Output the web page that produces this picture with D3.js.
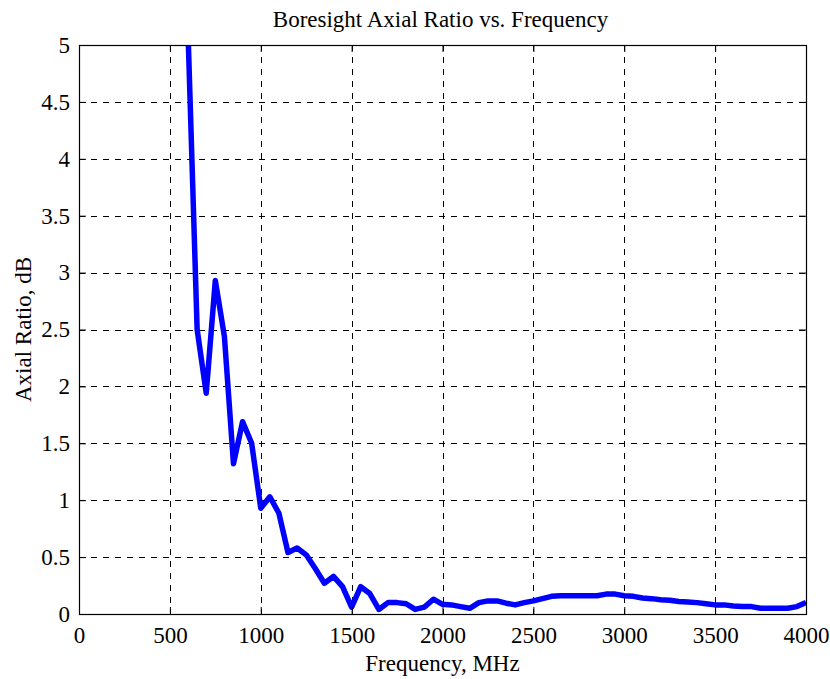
<!DOCTYPE html>
<html>
<head>
<meta charset="utf-8">
<script src="https://cdn.jsdelivr.net/npm/d3@7"></script>
<style>
  body { margin: 0; background: #fff; }
  svg text { font-family: "Liberation Serif", "Times New Roman", serif; fill: #000; }
</style>
</head>
<body>
<div id="chart"></div>
<script>
// frequency in MHz, axial ratio in dB
const freq = [600, 650, 700, 750, 800, 850, 900, 950, 1000, 1050, 1100, 1150, 1200, 1250, 1300,
              1350, 1400, 1450, 1500, 1550, 1600, 1650, 1700, 1750, 1800, 1850, 1900, 1950, 2000,
              2050, 2100, 2150, 2200, 2250, 2300, 2350, 2400, 2450, 2500, 2550, 2600, 2650, 2700,
              2750, 2800, 2850, 2900, 2950, 3000, 3050, 3100, 3150, 3200, 3250, 3300, 3350, 3400,
              3450, 3500, 3550, 3600, 3650, 3700, 3750, 3800, 3850, 3900, 3950, 4000];
const axialRatio = [5.1, 2.5, 1.94, 2.93, 2.44, 1.32, 1.69, 1.5, 0.93, 1.03, 0.885, 0.54, 0.58, 0.52, 0.4,
                    0.27, 0.33, 0.24, 0.06, 0.24, 0.18, 0.04, 0.1, 0.1, 0.09, 0.04, 0.06, 0.13, 0.085,
                    0.08, 0.065, 0.05, 0.1, 0.115, 0.115, 0.095, 0.08, 0.1, 0.115, 0.135, 0.155, 0.16, 0.16,
                    0.16, 0.16, 0.16, 0.175, 0.175, 0.16, 0.155, 0.14, 0.135, 0.125, 0.12, 0.11, 0.105, 0.1,
                    0.09, 0.08, 0.08, 0.07, 0.065, 0.065, 0.05, 0.05, 0.05, 0.05, 0.065, 0.1];
const xTicks = [0, 500, 1000, 1500, 2000, 2500, 3000, 3500, 4000];
const yTicks = [0, 0.5, 1, 1.5, 2, 2.5, 3, 3.5, 4, 4.5, 5];

const titleText = "Boresight Axial Ratio vs. Frequency";
const xLabel = "Frequency, MHz";
const yLabel = "Axial Ratio, dB";

// set the dimensions and margins of the graph
const W = 830, H = 679;
const margin = {top: 45, right: 24, bottom: 65, left: 79};
const width = W - margin.left - margin.right,
      height = H - margin.top - margin.bottom;
const fontSize = "23px";

const svg = d3.select("#chart")
  .append("svg")
  .attr("width", W)
  .attr("height", H);

const g = svg.append("g")
  .attr("transform", "translate(" + margin.left + "," + margin.top + ")");

const x = d3.scaleLinear().domain([0, 4000]).range([0, width]);
const y = d3.scaleLinear().domain([0, 5]).range([height, 0]);

// grid
g.append("g")
  .selectAll("line")
  .data(xTicks.slice(1, -1))
  .join("line")
  .attr("x1", d => Math.round(x(d)) + 0.5)
  .attr("x2", d => Math.round(x(d)) + 0.5)
  .attr("y1", 0)
  .attr("y2", height)
  .attr("stroke", "#000")
  .attr("stroke-width", 1)
  .attr("stroke-dasharray", "6,6");

g.append("g")
  .selectAll("line")
  .data(yTicks.slice(1, -1))
  .join("line")
  .attr("x1", 0)
  .attr("x2", width)
  .attr("y1", d => Math.round(y(d)) + 0.5)
  .attr("y2", d => Math.round(y(d)) + 0.5)
  .attr("stroke", "#000")
  .attr("stroke-width", 1)
  .attr("stroke-dasharray", "6,6");

// the line
g.append("clipPath").attr("id", "clip")
  .append("rect").attr("width", width).attr("height", height);

g.append("path")
  .datum(freq.map((f, i) => [f, axialRatio[i]]))
  .attr("clip-path", "url(#clip)")
  .attr("fill", "none")
  .attr("stroke", "#0000ff")
  .attr("stroke-width", 5.5)
  .attr("stroke-linejoin", "round")
  .attr("d", d3.line()
    .x(d => x(d[0]))
    .y(d => y(d[1])));

// axes, ticks pointing inward
const styleAxis = sel => {
  sel.select(".domain").remove();
  sel.selectAll("line").attr("stroke", "#000");
  sel.selectAll("text").style("font-size", fontSize).style("font-family", "Liberation Serif, serif");
};

g.append("g")
  .attr("transform", "translate(0," + height + ")")
  .call(d3.axisBottom(x).tickValues(xTicks).tickFormat(d3.format("d")).tickSizeInner(-7).tickSizeOuter(0).tickPadding(12.5))
  .call(styleAxis);

g.append("g")
  .call(d3.axisLeft(y).tickValues(yTicks).tickFormat(d => String(d)).tickSizeInner(-7).tickSizeOuter(0).tickPadding(9))
  .call(styleAxis);

g.append("g")
  .call(d3.axisTop(x).tickValues(xTicks).tickFormat("").tickSizeInner(-7).tickSizeOuter(0))
  .call(styleAxis);

g.append("g")
  .attr("transform", "translate(" + width + ",0)")
  .call(d3.axisRight(y).tickValues(yTicks).tickFormat("").tickSizeInner(-7).tickSizeOuter(0))
  .call(styleAxis);

// box
g.append("rect")
  .attr("x", 0.5).attr("y", 0.5)
  .attr("width", width).attr("height", height)
  .attr("fill", "none")
  .attr("stroke", "#000")
  .attr("stroke-width", 1.2);

// labels
svg.append("text")
  .attr("x", margin.left + width / 2 - 2)
  .attr("y", 27)
  .attr("text-anchor", "middle")
  .style("font-size", fontSize)
  .text(titleText);

svg.append("text")
  .attr("x", margin.left + width / 2)
  .attr("y", 671)
  .attr("text-anchor", "middle")
  .style("font-size", fontSize)
  .text(xLabel);

svg.append("text")
  .attr("transform", "translate(31," + (margin.top + height / 2) + ") rotate(-90)")
  .attr("text-anchor", "middle")
  .style("font-size", fontSize)
  .text(yLabel);
</script>
</body>
</html>
